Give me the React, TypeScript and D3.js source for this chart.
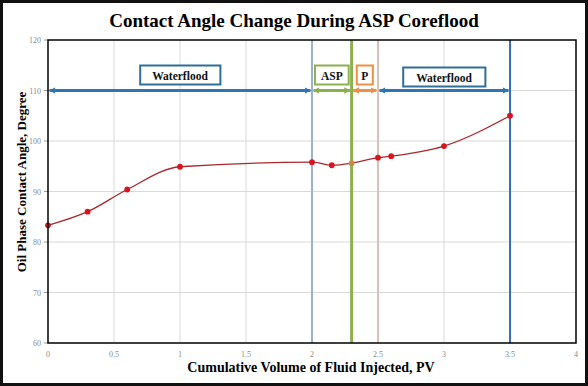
import React, { useEffect } from "react";
import * as d3 from "d3";

// measured points (PV injected vs oil-phase contact angle)
const pvInjected = [0, 0.3, 0.6, 1.0, 2.0, 2.15, 2.3, 2.5, 2.6, 3.0, 3.5];
const contactAngle = [83.3, 86.0, 90.4, 94.9, 95.8, 95.2, 95.6, 96.7, 97.0, 99.0, 105.0];

// injection stages
const stageNames = ["Waterflood", "ASP", "P", "Waterflood"];
const stageStart = [0, 2.0, 2.3, 2.5];
const stageEnd = [2.0, 2.3, 2.5, 3.5];
const stageLevel = 110;

const xTicks = [0, 0.5, 1, 1.5, 2, 2.5, 3, 3.5, 4];
const yTicks = [60, 70, 80, 90, 100, 110, 120];

const stageColor = ["#2e75b6", "#8db04f", "#ed8f44", "#2e75b6"];
const boxColor = ["#2f6f97", "#8db04f", "#ed8f44", "#2f6f97"];
const boxPad = [12, 6, 4.5, 13];
const boundaryColor = ["#9bb1cc", "#8db04f", "#d9c1bb", "#2e75b6"];
const boundaryWidth = [2, 3, 2, 2];

export default function App() {
  const svgRef = React.useRef<SVGSVGElement>(null);
  const width = 588;
  const height = 386;

  useEffect(() => {
    document.body.style.margin = "0";
    const svg = d3.select(svgRef.current);
    svg.selectAll("*").remove();
    const font = "'Liberation Serif', 'Times New Roman', serif";

    const x = d3.scaleLinear().domain([0, 4]).range([48, 576]);
    const y = d3.scaleLinear().domain([60, 120]).range([343, 40]);

    svg.append("rect").attr("width", width).attr("height", height).attr("fill", "#fff");

    // grid
    const grid = svg.append("g");
    grid
      .selectAll("line.v")
      .data(xTicks.slice(1, -1))
      .enter()
      .append("line")
      .attr("x1", (d) => x(d))
      .attr("x2", (d) => x(d))
      .attr("y1", y(120))
      .attr("y2", y(60))
      .attr("stroke", "#d9d9d9")
      .attr("stroke-width", 1);
    grid
      .selectAll("line.h")
      .data(yTicks.slice(1, -1))
      .enter()
      .append("line")
      .attr("x1", x(0))
      .attr("x2", x(4))
      .attr("y1", (d) => y(d))
      .attr("y2", (d) => y(d))
      .attr("stroke", "#d9d9d9")
      .attr("stroke-width", 1);

    // tick labels
    svg
      .append("g")
      .selectAll("text")
      .data(xTicks)
      .enter()
      .append("text")
      .attr("x", (d) => x(d))
      .attr("y", y(60) + 14)
      .attr("text-anchor", "middle")
      .attr("fill", "#8a8a8a")
      .style("font-family", font)
      .style("font-size", "8px")
      .text((d) => d3.format("")(d));
    svg
      .append("g")
      .selectAll("text")
      .data(yTicks)
      .enter()
      .append("text")
      .attr("x", x(0) - 7)
      .attr("y", (d) => y(d) + 3)
      .attr("text-anchor", "end")
      .attr("fill", "#8a8a8a")
      .style("font-family", font)
      .style("font-size", "8px")
      .text((d) => d);
    svg
      .append("g")
      .selectAll("line")
      .data(yTicks)
      .enter()
      .append("line")
      .attr("x1", x(0) - 4)
      .attr("x2", x(0))
      .attr("y1", (d) => y(d))
      .attr("y2", (d) => y(d))
      .attr("stroke", "#999")
      .attr("stroke-width", 1);

    // stage boundaries
    svg
      .append("g")
      .selectAll("line")
      .data(stageEnd)
      .enter()
      .append("line")
      .attr("x1", (d) => x(d))
      .attr("x2", (d) => x(d))
      .attr("y1", y(120))
      .attr("y2", y(60))
      .attr("stroke", (d, i) => boundaryColor[i])
      .attr("stroke-width", (d, i) => boundaryWidth[i]);

    // arrow heads
    const defs = svg.append("defs");
    stageColor.forEach((c, i) => {
      defs
        .append("marker")
        .attr("id", "arr" + i)
        .attr("viewBox", "0 0 10 10")
        .attr("refX", 9)
        .attr("refY", 5)
        .attr("markerWidth", 2.2)
        .attr("markerHeight", 2.2)
        .attr("orient", "auto-start-reverse")
        .append("path")
        .attr("d", "M0,0L10,5L0,10Z")
        .attr("fill", c);
    });

    svg
      .append("g")
      .selectAll("line")
      .data(stageNames)
      .enter()
      .append("line")
      .attr("x1", (d, i) => x(stageStart[i]) + 1.5)
      .attr("x2", (d, i) => x(stageEnd[i]) - 1.5)
      .attr("y1", y(stageLevel))
      .attr("y2", y(stageLevel))
      .attr("stroke", (d, i) => stageColor[i])
      .attr("stroke-width", 3)
      .attr("marker-start", (d, i) => `url(#arr${i})`)
      .attr("marker-end", (d, i) => `url(#arr${i})`);

    // stage labels
    const labels = svg
      .append("g")
      .selectAll("g")
      .data(stageNames)
      .enter()
      .append("g")
      .attr(
        "transform",
        (d, i) => `translate(${x((stageStart[i] + stageEnd[i]) / 2)},${y(stageLevel) - 15 + (i === 3 ? 2 : 0)})`
      );
    labels
      .append("text")
      .attr("text-anchor", "middle")
      .attr("y", 4)
      .style("font-family", font)
      .style("font-size", "11.5px")
      .style("font-weight", "bold")
      .attr("fill", "#111")
      .text((d) => d);
    labels.each(function (d, i) {
      const g = d3.select(this);
      const bb = (g.select("text").node() as SVGTextElement).getBBox();
      g.insert("rect", "text")
        .attr("x", bb.x - boxPad[i])
        .attr("y", -10)
        .attr("width", bb.width + boxPad[i] * 2)
        .attr("height", 19)
        .attr("fill", "#fff")
        .attr("stroke", boxColor[i])
        .attr("stroke-width", 2);
    });

    // curve
    const pts = pvInjected.map((p, i) => [p, contactAngle[i]] as [number, number]);
    const line = d3
      .line<[number, number]>()
      .x((d) => x(d[0]))
      .y((d) => y(d[1]))
      .curve(d3.curveMonotoneX);
    svg
      .append("path")
      .attr("d", line(pts))
      .attr("fill", "none")
      .attr("stroke", "#a8292c")
      .attr("stroke-width", 1.3);
    svg
      .append("g")
      .selectAll("circle")
      .data(pts)
      .enter()
      .append("circle")
      .attr("cx", (d) => x(d[0]))
      .attr("cy", (d) => y(d[1]))
      .attr("r", 2.9)
      .attr("fill", (d) => (d[0] === 2.3 ? "#c98a4a" : "#d9141f"));

    // plot frame
    svg
      .append("rect")
      .attr("x", x(0))
      .attr("y", y(120))
      .attr("width", x(4) - x(0))
      .attr("height", y(60) - y(120))
      .attr("fill", "none")
      .attr("stroke", "#000")
      .attr("stroke-width", 1.5);

    // titles
    svg
      .append("text")
      .attr("x", 294)
      .attr("y", 27)
      .attr("text-anchor", "middle")
      .style("font-family", font)
      .style("font-size", "19px")
      .style("font-weight", "bold")
      .text("Contact Angle Change During ASP Coreflood");
    svg
      .append("text")
      .attr("x", 311)
      .attr("y", 372)
      .attr("text-anchor", "middle")
      .style("font-family", font)
      .style("font-size", "14px")
      .style("font-weight", "bold")
      .text("Cumulative Volume of Fluid Injected, PV");
    svg
      .append("text")
      .attr("transform", "translate(26,182) rotate(-90)")
      .attr("text-anchor", "middle")
      .style("font-family", font)
      .style("font-size", "13px")
      .style("font-weight", "bold")
      .text("Oil Phase Contact Angle, Degree");

    // outer border
    svg
      .append("rect")
      .attr("x", 1.5)
      .attr("y", 1.5)
      .attr("width", width - 3)
      .attr("height", height - 3)
      .attr("fill", "none")
      .attr("stroke", "#111")
      .attr("stroke-width", 3);
  }, []);

  return <svg ref={svgRef} width={width} height={height} style={{ display: "block" }} />;
}
